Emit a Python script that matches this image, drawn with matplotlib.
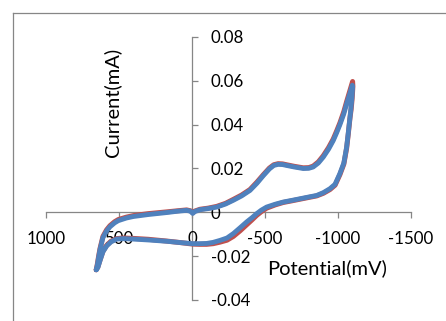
import matplotlib
matplotlib.use("Agg")
import matplotlib.pyplot as plt
from matplotlib.lines import Line2D

# Cyclic voltammogram: potential (mV) and current (mA), two overlaid scans
scan1_potential = [656, 648, 640, 630, 610, 585, 562, 530, 505, 450, 402, 300, 174, 100, 37, 10, -5, -20,
                   -55, -110, -169, -230, -283, -340, -397, -445, -489, -530, -560, -590, -620, -648, -700,
                   -762, -800, -830, -865, -899, -935, -967, -990, -1013, -1040, -1059, -1080, -1100,
                   -1102, -1097, -1090, -1082, -1070, -1059, -1040, -1013, -980, -945, -900, -854, -800,
                   -740, -680, -625, -570, -511, -475, -443, -410, -374, -330, -283, -240, -192, -145,
                   -100, -50, -5, 80, 174, 300, 402, 470, 516, 555, 584, 610, 630, 645, 656]
scan1_current = [-0.0262, -0.0235, -0.0202, -0.0165, -0.0110, -0.0080, -0.0061, -0.0043, -0.0033, -0.0022,
                 -0.0015, -0.0006, 0.0002, 0.0007, 0.0011, 0.0007, -0.0002, 0.0006, 0.0014, 0.0019, 0.0027,
                 0.0041, 0.0059, 0.0079, 0.0104, 0.0138, 0.0172, 0.0202, 0.0217, 0.0222, 0.0221, 0.0217,
                 0.0210, 0.0203, 0.0204, 0.0211, 0.0230, 0.0258, 0.0295, 0.0334, 0.0370, 0.0408, 0.0460,
                 0.0505, 0.0552, 0.0597, 0.0575, 0.0520, 0.0470, 0.0430, 0.0355, 0.0292, 0.0220, 0.0172,
                 0.0124, 0.0104, 0.0087, 0.0075, 0.0068, 0.0060, 0.0052, 0.0045, 0.0034, 0.0019, 0.0003,
                 -0.0014, -0.0035, -0.0057, -0.0084, -0.0110, -0.0127, -0.0136, -0.0143, -0.0146, -0.0146,
                 -0.0145, -0.0138, -0.0131, -0.0123, -0.0119, -0.0117, -0.0120, -0.0132, -0.0150, -0.0178,
                 -0.0218, -0.0250, -0.0262]

scan2_potential = [656, 648, 640, 630, 610, 585, 562, 530, 505, 450, 402, 300, 174, 100, 37, 10, -5, -20,
                   -55, -110, -169, -230, -283, -340, -397, -445, -489, -530, -560, -590, -620, -648, -700,
                   -762, -800, -830, -865, -899, -935, -967, -990, -1013, -1040, -1059, -1080, -1098,
                   -1100, -1095, -1088, -1082, -1070, -1059, -1040, -1013, -980, -945, -900, -854, -800,
                   -740, -680, -625, -570, -511, -475, -443, -410, -374, -330, -283, -240, -192, -145,
                   -100, -50, -5, 80, 174, 300, 402, 470, 516, 555, 584, 610, 630, 645, 656]
scan2_current = [-0.0262, -0.0240, -0.0207, -0.0170, -0.0115, -0.0085, -0.0066, -0.0048, -0.0038, -0.0026,
                 -0.0019, -0.0010, -0.0001, 0.0005, 0.0009, 0.0005, -0.0005, 0.0004, 0.0012, 0.0017, 0.0024,
                 0.0038, 0.0055, 0.0075, 0.0100, 0.0133, 0.0168, 0.0198, 0.0214, 0.0219, 0.0218, 0.0214,
                 0.0207, 0.0200, 0.0201, 0.0207, 0.0225, 0.0252, 0.0288, 0.0327, 0.0362, 0.0400, 0.0450,
                 0.0495, 0.0540, 0.0580, 0.0570, 0.0520, 0.0470, 0.0433, 0.0360, 0.0297, 0.0225, 0.0177,
                 0.0128, 0.0108, 0.0090, 0.0077, 0.0070, 0.0062, 0.0054, 0.0047, 0.0037, 0.0024, 0.0010,
                 -0.0006, -0.0025, -0.0044, -0.0070, -0.0097, -0.0117, -0.0128, -0.0137, -0.0142, -0.0143,
                 -0.0143, -0.0138, -0.0132, -0.0126, -0.0122, -0.0120, -0.0122, -0.0135, -0.0153, -0.0180,
                 -0.0220, -0.0252, -0.0262]

x_ticks = [1000, 500, 0, -500, -1000, -1500]
x_tick_labels = ["1000", "500", "0", "-500", "-1000", "-1500"]
y_ticks = [-0.04, -0.02, 0, 0.02, 0.04, 0.06, 0.08]
y_tick_labels = ["-0.04", "-0.02", "0", "0.02", "0.04", "0.06", "0.08"]

plt.rcParams['font.family'] = ['Lato', 'DejaVu Sans']
W, H = 446, 321
fig = plt.figure(figsize=(W / 100, H / 100), dpi=100)
ax = fig.add_axes([46 / W, 1 - 300 / H, 365 / W, 263 / H])

ax.plot(scan1_potential, scan1_current, color='#C0504D', lw=3.6, solid_capstyle='round',
        solid_joinstyle='round', zorder=3)
ax.plot(scan2_potential, scan2_current, color='#4F81BD', lw=3.5, solid_capstyle='round',
        solid_joinstyle='round', zorder=4)

ax.set_xlim(1000, -1500)
ax.set_ylim(-0.04, 0.08)

axis_gray = '#868686'
ax.spines['top'].set_visible(False)
ax.spines['left'].set_visible(False)
ax.spines['right'].set_position(('data', 0))
ax.spines['bottom'].set_position(('data', 0))
for s in ('right', 'bottom'):
    ax.spines[s].set_color(axis_gray)
    ax.spines[s].set_linewidth(0.9)
    ax.spines[s].set_zorder(1)

ax.yaxis.tick_right()
ax.set_xticks(x_ticks)
ax.set_xticklabels(x_tick_labels)
ax.set_yticks(y_ticks)
ax.set_yticklabels(y_tick_labels)
ax.tick_params(axis='x', direction='out', length=4.5, width=0.9, color=axis_gray,
               labelsize=12.2, pad=9, labelcolor='black')
ax.tick_params(axis='y', direction='out', length=4.5, width=0.9, color=axis_gray,
               labelsize=12.2, pad=9, labelcolor='black')
for lbl in ax.get_yticklabels():
    lbl.set_horizontalalignment('left')
ax.patch.set_alpha(0)

fig.text(112 / W, 1 - 102 / H, "Current(mA)", rotation=90, ha='center', va='center', fontsize=14.5)
fig.text(327 / W, 1 - 268 / H, "Potential(mV)", ha='center', va='center', fontsize=14.5)

# chart area border (extends past the saved region)
fig.add_artist(Line2D([12.5 / W, 12.5 / W], [1 - 12.5 / H, -0.1], transform=fig.transFigure,
                      color=axis_gray, lw=0.9))
fig.add_artist(Line2D([12.5 / W, 1.1], [1 - 12.5 / H, 1 - 12.5 / H], transform=fig.transFigure,
                      color=axis_gray, lw=0.9))

fig.savefig("out.png", dpi=100, facecolor='white')
